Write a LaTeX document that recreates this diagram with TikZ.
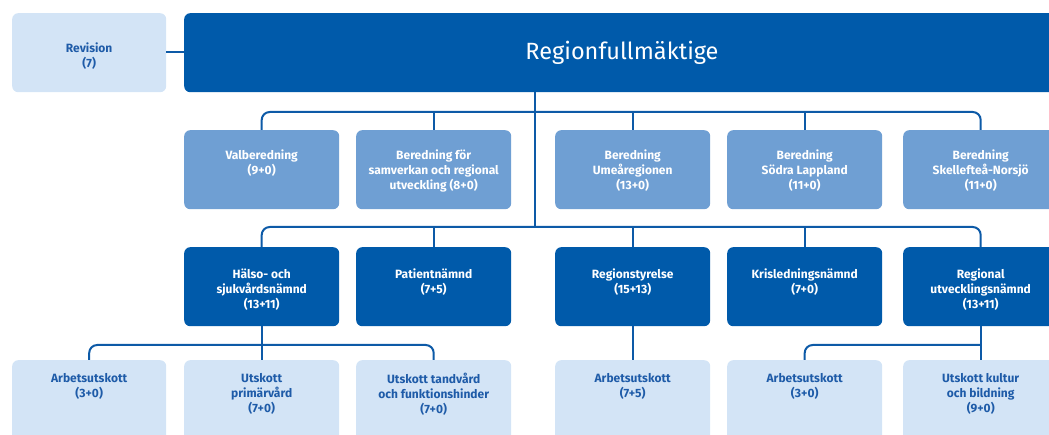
\documentclass[tikz,border=0pt]{standalone}
\usepackage{fontspec}
\setmainfont{Fira Sans}
\usetikzlibrary{calc}
\definecolor{dkblue}{HTML}{005AAA}
\definecolor{midblue}{HTML}{6F9FD3}
\definecolor{ltblue}{HTML}{D3E4F6}
\definecolor{txtblue}{HTML}{1E5BA8}
\definecolor{lnblue}{HTML}{0D5AA7}
\tikzset{
  boxbase/.style={rectangle, rounded corners=6pt, inner sep=0pt, minimum width=155pt, minimum height=79pt, anchor=north west, draw=none},
  darkbox/.style={boxbase, fill=dkblue},
  midbox/.style={boxbase, fill=midblue},
  lightbox/.style={boxbase, fill=ltblue},
  wtxt/.style={text=white, font=\bfseries\fontsize{12}{15}\selectfont, align=center, anchor=north, inner sep=0pt},
  btxt/.style={wtxt, text=txtblue},
  conn/.style={draw=lnblue, line width=2pt},
  bus/.style={conn, rounded corners=8pt},
}
\begin{document}
\begin{tikzpicture}[x=1pt,y=-1pt]
\clip (0,0) rectangle (1049,435);
% top row
\node[lightbox, minimum width=154pt] (rev) at (12,13) {};
\node[darkbox, minimum width=876pt] (rf) at (184,13) {};
\node[btxt] (rev-t) at ($(rev.north)+(0,30)$) {Revision\\(7)};
\node[text=white, font=\fontsize{23.5}{27}\selectfont, anchor=base, inner sep=0pt] (rf-t) at (622,60) {Regionfullmäktige};
% row 2
\node[midbox] (valb) at (184,130) {};
\node[midbox] (bfor) at (356,130) {};
\node[midbox] (umea) at (555,130) {};
\node[midbox] (sodra) at (727,130) {};
\node[midbox] (skell) at (903,130) {};
\node[wtxt] (valb-t) at ($(valb.north)+(0,20)$) {Valberedning\\(9+0)};
\node[wtxt] (bfor-t) at ($(bfor.north)+(0,20)$) {Beredning för\\samverkan och regional\\utveckling (8+0)};
\node[wtxt] (umea-t) at ($(umea.north)+(0,20)$) {Beredning\\Umeåregionen\\(13+0)};
\node[wtxt] (sodra-t) at ($(sodra.north)+(0,20)$) {Beredning\\Södra Lappland\\(11+0)};
\node[wtxt] (skell-t) at ($(skell.north)+(0,20)$) {Beredning\\Skellefteå-Norsjö\\(11+0)};
% row 3
\node[darkbox] (hs) at (184,247) {};
\node[darkbox] (pat) at (356,247) {};
\node[darkbox] (rs) at (555,247) {};
\node[darkbox] (kris) at (727,247) {};
\node[darkbox] (reg) at (903,247) {};
\node[wtxt] (hs-t) at ($(hs.north)+(0,22)$) {Hälso- och\\sjukvårdsnämnd\\(13+11)};
\node[wtxt] (pat-t) at ($(pat.north)+(0,22)$) {Patientnämnd\\(7+5)};
\node[wtxt] (rs-t) at ($(rs.north)+(0,22)$) {Regionstyrelse\\(15+13)};
\node[wtxt] (kris-t) at ($(kris.north)+(0,22)$) {Krisledningsnämnd\\(7+0)};
\node[wtxt] (reg-t) at ($(reg.north)+(0,22)$) {Regional\\utvecklingsnämnd\\(13+11)};
% row 4
\node[lightbox, minimum width=154pt, minimum height=90pt] (au1) at (12,360) {};
\node[lightbox, minimum height=90pt] (prim) at (184,360) {};
\node[lightbox, minimum height=90pt] (tand) at (356,360) {};
\node[lightbox, minimum height=90pt] (au2) at (555,360) {};
\node[lightbox, minimum height=90pt] (au3) at (727,360) {};
\node[lightbox, minimum height=90pt] (kult) at (903,360) {};
\node[btxt] (au1-t) at ($(au1.north)+(0,13)$) {Arbetsutskott\\(3+0)};
\node[btxt] (prim-t) at ($(prim.north)+(0,13)$) {Utskott\\primärvård\\(7+0)};
\node[btxt] (tand-t) at ($(tand.north)+(0,13)$) {Utskott tandvård\\och funktionshinder\\(7+0)};
\node[btxt] (au2-t) at ($(au2.north)+(0,13)$) {Arbetsutskott\\(7+5)};
\node[btxt] (au3-t) at ($(au3.north)+(0,13)$) {Arbetsutskott\\(3+0)};
\node[btxt] (kult-t) at ($(kult.north)+(0,13)$) {Utskott kultur\\och bildning\\(9+0)};
% connectors
\coordinate (b2) at (535,112);
\coordinate (b3) at (535,227);
\coordinate (b4) at (262,345);
\coordinate (b5) at (981,345);
\coordinate (revc) at (166,52);
\draw[conn] (revc) -- (revc -| rf.west);
\draw[conn] (b2 |- rf.south) -- (b3);
\draw[bus] (valb.north) |- (b2) -| (skell.north);
\draw[conn] (bfor.north) -- (bfor.north |- b2);
\draw[conn] (umea.north) -- (umea.north |- b2);
\draw[conn] (sodra.north) -- (sodra.north |- b2);
\draw[bus] (hs.north) |- (b3) -| (reg.north);
\draw[conn] (pat.north) -- (pat.north |- b3);
\draw[conn] (rs.north) -- (rs.north |- b3);
\draw[conn] (kris.north) -- (kris.north |- b3);
\draw[conn] (hs.south) -- (prim.north);
\draw[bus] (au1.north) |- (b4) -| (tand.north);
\draw[conn] (rs.south) -- (au2.north);
\draw[conn] (reg.south) -- (kult.north);
\draw[bus] (au3.north) |- (b5);
\end{tikzpicture}
\end{document}
